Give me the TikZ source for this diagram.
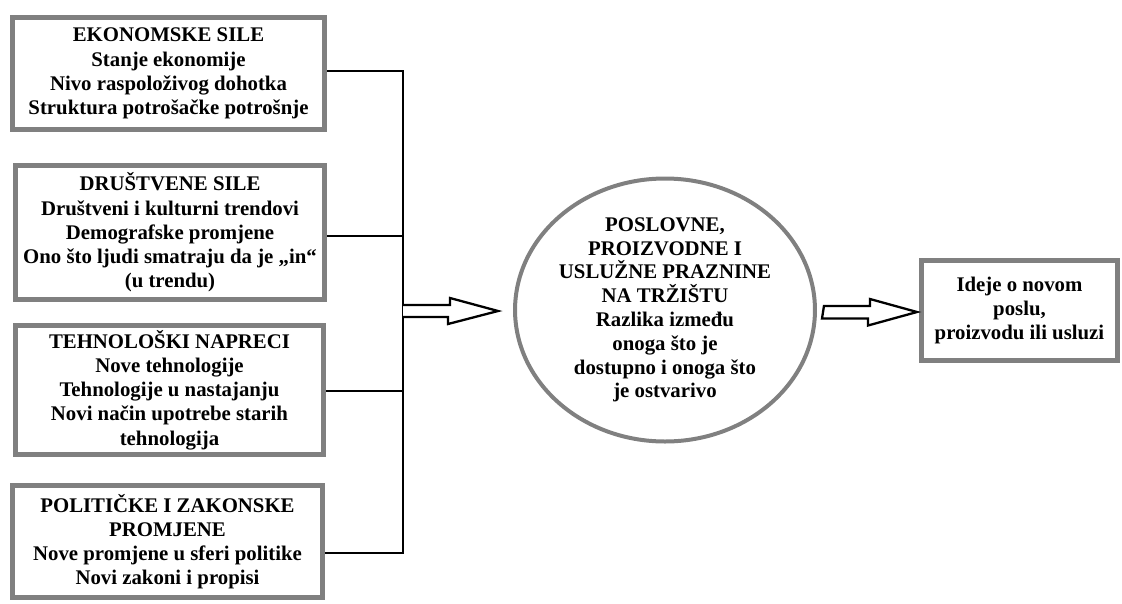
\documentclass[tikz,border=0pt]{standalone}
\usepackage{fontspec}
\setmainfont{Liberation Serif}
\usetikzlibrary{positioning,calc,shapes.geometric}

\begin{document}
\begin{tikzpicture}[x=1pt,y=-1pt,
		force/.style={draw=gray, line width=5pt, fill=white, inner sep=0pt, outer sep=2.5pt,
			align=center, font=\fontsize{20.8}{24.2}\selectfont\bfseries},
		gapshape/.style={ellipse, draw=gray, line width=4pt, inner sep=0pt, outer sep=2pt,
			align=center, font=\fontsize{20.8}{23.8}\selectfont\bfseries},
		wire/.style={line width=2.3pt, line join=miter},
		hollow/.style={line width=2.3pt, line join=miter, fill=white}]
		\useasboundingbox (0,0) rectangle (1122,603);

		% sources of ideas
		\node[force, minimum width=312pt, minimum height=112pt] (econ) at (168.5,73.5)
			{EKONOMSKE SILE\\Stanje ekonomije\\Nivo raspoloživog dohotka\\Struktura potrošačke potrošnje};
		\node[force, minimum width=309pt, minimum height=134pt] (soc) at (170,232.5)
			{DRUŠTVENE SILE\\Društveni i kulturni trendovi\\Demografske promjene\\Ono što ljudi smatraju da je „in“\\(u trendu)};
		\node[force, minimum width=308pt, minimum height=129pt] (tech) at (169.5,390)
			{TEHNOLOŠKI NAPRECI\\Nove tehnologije\\Tehnologije u nastajanju\\Novi način upotrebe starih\\tehnologija};
		\node[force, minimum width=310pt, minimum height=112pt] (pol) at (167.5,541.5)
			{POLITIČKE I ZAKONSKE\\PROMJENE\\Nove promjene u sferi politike\\Novi zakoni i propisi};

		% gap and idea
		\node[gapshape, minimum width=296pt, minimum height=263pt] (gap) at (665,310)
			{POSLOVNE,\\PROIZVODNE I\\USLUŽNE PRAZNINE\\NA TRŽIŠTU\\Razlika između\\onoga što je\\dostupno i onoga što\\je ostvarivo};
		\node[force, minimum width=196pt, minimum height=100pt] (idea) at (1019.5,310.5)
			{Ideje o novom\\poslu,\\proizvodu ili usluzi};

		% collecting lines
		\coordinate (bus) at (403,311);
		\draw[wire] ([yshift=2.5pt]econ.east) -- ([yshift=2.5pt]econ.east -| bus)
			-- ([yshift=-11.5pt]pol.east -| bus) -- ([yshift=-11.5pt]pol.east);
		\draw[wire] ([yshift=-3.5pt]soc.east) -- ([yshift=-3.5pt]soc.east -| bus);
		\draw[wire] ([yshift=-1pt]tech.east) -- ([yshift=-1pt]tech.east -| bus);

		% hollow arrows
		\draw[hollow] ($(bus)+(0,-6)$) -- ++(47,0) -- ++(0,-7) -- ($(gap.west)+(-15,1)$)
			-- ++(-50,13) -- ++(0,-7) -- ($(bus)+(0,6)$);
		\draw[hollow] ($(gap.east)+(7,-4)$) -- ++(46,0) -- ++(0,-7) -- ($(idea.west)+(-2,1.5)$)
			-- ++(-49,13.5) -- ++(0,-7) -- ++(-46,0) -- cycle;
	\end{tikzpicture}
\end{document}
